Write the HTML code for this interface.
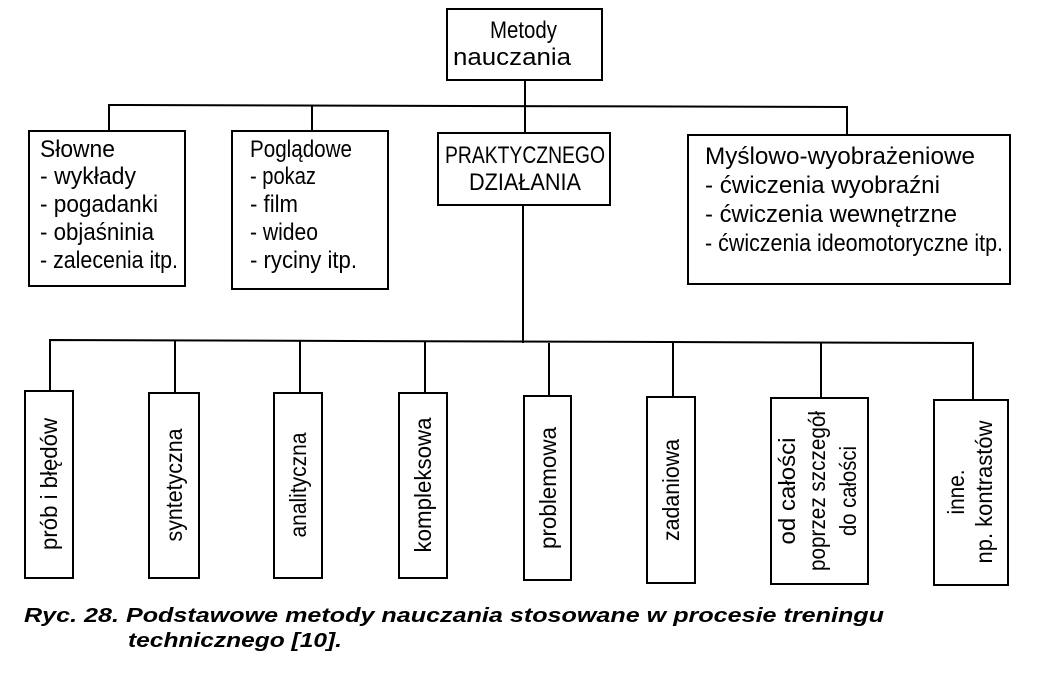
<!DOCTYPE html>
<html><head><meta charset="utf-8"><style>
html,body{margin:0;padding:0;background:#fff;}
svg{display:block;}
text{font-family:"Liberation Sans Narrow","Liberation Sans",sans-serif;fill:#000;}
.t{font-size:24px;}
.v{font-size:23px;}
.c{font-family:"Liberation Sans",sans-serif;font-size:20px;font-weight:bold;font-style:italic;}
</style></head><body>
<svg width="1046" height="682" viewBox="0 0 1046 682" xmlns="http://www.w3.org/2000/svg">
<g fill="none" stroke="#000" stroke-width="2">
<rect x="447" y="9" width="155" height="71"/>
<line x1="525" y1="80" x2="525" y2="133"/>
<polyline points="109,131 109,105 847,107 847,135"/>
<line x1="312" y1="105" x2="312" y2="131"/>
<rect x="29" y="131" width="156" height="155"/>
<rect x="232" y="131" width="156" height="158"/>
<rect x="438" y="133" width="172" height="72"/>
<rect x="688" y="135" width="322" height="149"/>
<line x1="523" y1="205" x2="523" y2="343"/>
<polyline points="50,391 50,340 973,343 973,400"/>
<line x1="175" y1="340" x2="175" y2="393"/>
<line x1="300" y1="341" x2="300" y2="393"/>
<line x1="425" y1="341" x2="425" y2="393"/>
<line x1="549" y1="343" x2="549" y2="396"/>
<line x1="673" y1="343" x2="673" y2="397"/>
<line x1="821" y1="343" x2="821" y2="398"/>
<rect x="25" y="391" width="48" height="187"/>
<rect x="149" y="393" width="50" height="185"/>
<rect x="274" y="393" width="48" height="185"/>
<rect x="399" y="393" width="48" height="185"/>
<rect x="524" y="396" width="47" height="184"/>
<rect x="647" y="397" width="48" height="186"/>
<rect x="771" y="398" width="97" height="186"/>
<rect x="934" y="400" width="74" height="185"/>
</g>
<text class="t" x="490" y="38" textLength="67" lengthAdjust="spacingAndGlyphs">Metody</text>
<text class="t" x="453" y="65" textLength="118" lengthAdjust="spacingAndGlyphs">nauczania</text>

<text class="t" x="40" y="157" textLength="75" lengthAdjust="spacingAndGlyphs">Słowne</text>
<text class="t" x="40" y="184" textLength="96" lengthAdjust="spacingAndGlyphs">- wykłady</text>
<text class="t" x="40" y="212" textLength="118" lengthAdjust="spacingAndGlyphs">- pogadanki</text>
<text class="t" x="40" y="240" textLength="114" lengthAdjust="spacingAndGlyphs">- objaśninia</text>
<text class="t" x="40" y="268" textLength="138" lengthAdjust="spacingAndGlyphs">- zalecenia itp.</text>

<text class="t" x="250" y="157" textLength="102" lengthAdjust="spacingAndGlyphs">Poglądowe</text>
<text class="t" x="250" y="184" textLength="66" lengthAdjust="spacingAndGlyphs">- pokaz</text>
<text class="t" x="250" y="212" textLength="48" lengthAdjust="spacingAndGlyphs">- film</text>
<text class="t" x="250" y="240" textLength="68" lengthAdjust="spacingAndGlyphs">- wideo</text>
<text class="t" x="250" y="268" textLength="107" lengthAdjust="spacingAndGlyphs">- ryciny itp.</text>

<text class="t" x="445" y="163" textLength="160" lengthAdjust="spacingAndGlyphs">PRAKTYCZNEGO</text>
<text class="t" x="469" y="190" textLength="112" lengthAdjust="spacingAndGlyphs">DZIAŁANIA</text>

<text class="t" x="705" y="164" textLength="270" lengthAdjust="spacingAndGlyphs">Myślowo-wyobrażeniowe</text>
<text class="t" x="705" y="193" textLength="235" lengthAdjust="spacingAndGlyphs">- ćwiczenia wyobraźni</text>
<text class="t" x="705" y="222" textLength="252" lengthAdjust="spacingAndGlyphs">- ćwiczenia wewnętrzne</text>
<text class="t" x="705" y="251" textLength="298" lengthAdjust="spacingAndGlyphs">- ćwiczenia ideomotoryczne itp.</text>

<g text-anchor="middle">
<text class="v" transform="translate(57,484) rotate(-90)" textLength="132" lengthAdjust="spacingAndGlyphs">prób i błędów</text>
<text class="v" transform="translate(182,485) rotate(-90)" textLength="113" lengthAdjust="spacingAndGlyphs">syntetyczna</text>
<text class="v" transform="translate(306,485) rotate(-90)" textLength="105" lengthAdjust="spacingAndGlyphs">analityczna</text>
<text class="v" transform="translate(431,485) rotate(-90)" textLength="135" lengthAdjust="spacingAndGlyphs">kompleksowa</text>
<text class="v" transform="translate(556,488) rotate(-90)" textLength="122" lengthAdjust="spacingAndGlyphs">problemowa</text>
<text class="v" transform="translate(679,490) rotate(-90)" textLength="102" lengthAdjust="spacingAndGlyphs">zadaniowa</text>
<text class="v" transform="translate(795,491) rotate(-90)" textLength="107" lengthAdjust="spacingAndGlyphs">od całości</text>
<text class="v" transform="translate(825,491) rotate(-90)" textLength="160" lengthAdjust="spacingAndGlyphs">poprzez szczegół</text>
<text class="v" transform="translate(856,491) rotate(-90)" textLength="90" lengthAdjust="spacingAndGlyphs">do całości</text>
<text class="v" transform="translate(964,492) rotate(-90)" textLength="45" lengthAdjust="spacingAndGlyphs">inne.</text>
<text class="v" transform="translate(992,492) rotate(-90)" textLength="143" lengthAdjust="spacingAndGlyphs">np. kontrastów</text>
</g>

<text class="c" x="24" y="622" textLength="860" lengthAdjust="spacingAndGlyphs">Ryc. 28. Podstawowe metody nauczania stosowane w procesie treningu</text>
<text class="c" x="128" y="647" textLength="214" lengthAdjust="spacingAndGlyphs">technicznego [10].</text>
</svg>
</body></html>
